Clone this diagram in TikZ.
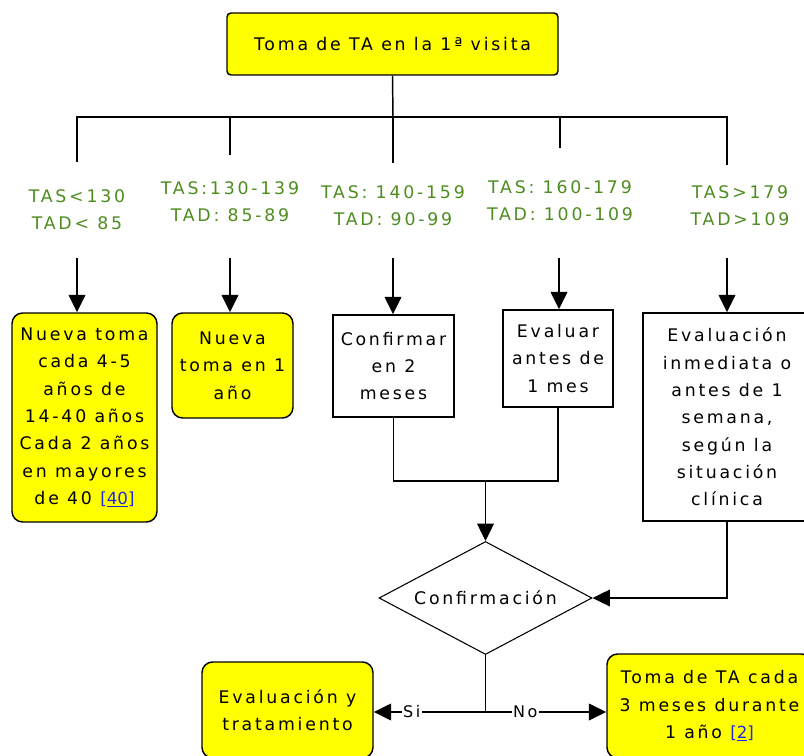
\documentclass[tikz,border=0pt]{standalone}
\usepackage{fontspec}
\setmainfont{DejaVu Sans}[LetterSpace=16]
\usetikzlibrary{arrows.meta,shapes.geometric}
\definecolor{amarillo}{RGB}{255,255,0}
\definecolor{verde}{RGB}{78,140,32}
\definecolor{enlace}{RGB}{30,40,220}
\tikzset{
  caja/.style={draw,line width=1.1pt,align=center,inner sep=0pt},
  cajaam/.style={caja,fill=amarillo,rounded corners=8pt},
  etiq/.style={text=verde,align=center},
  linea/.style={line width=1.1pt},
  flecha/.style={line width=1.1pt,-{Triangle[length=13pt,width=12.5pt]}}
}
\newcommand{\cita}[1]{{\fontsize{12.5}{12.5}\selectfont\addfontfeature{LetterSpace=0}\color{enlace}[\underline{#1}]}}
\begin{document}
\begin{tikzpicture}[x=0.75pt,y=-0.75pt,font=\fontsize{13}{20.5}\selectfont]
         \useasboundingbox (0,0) rectangle (804,756);
         \node[caja,fill=amarillo,rounded corners=3pt,minimum width=248.25pt,minimum height=46.5pt] (top) at (392.5,44) {Toma de TA en la 1ª visita};
         \coordinate (bar) at (393,117);
         \coordinate (d1) at (77,162);
         \coordinate (d2) at (230,155);
         \coordinate (d3) at (393,163);
         \coordinate (d4) at (560,148);
         \coordinate (d5) at (727,165);
         \draw[linea] (top.south) -- (bar);
         \draw[linea] (d1) |- (bar) -| (d5);
         \draw[linea] (d2) -- (d2 |- bar);
         \draw[linea] (d3) -- (bar);
         \draw[linea] (d4) -- (d4 |- bar);
         \node[etiq] (l1) at (77,209.5) {TAS<130\\TAD< 85};
         \node[etiq] (l2) at (230,201.5) {TAS:130-139\\TAD: 85-89};
         \node[etiq] (l3) at (393,206) {TAS: 140-159\\TAD: 90-99};
         \node[etiq] (l4) at (560,201) {TAS: 160-179\\TAD: 100-109};
         \node[etiq] (l5) at (740,206) {TAS>179\\TAD>109};
         \node[cajaam,minimum width=108.75pt,minimum height=156.75pt] (b1) at (84.5,417.5) {Nueva toma\\cada 4-5\\años de\\14-40 años\\Cada 2 años\\en mayores\\de 40 \cita{40}};
         \node[cajaam,minimum width=90.75pt,minimum height=78.75pt] (b2) at (232.5,365.5) {Nueva\\toma en 1\\año};
         \node[caja,minimum width=90.75pt,minimum height=76.5pt] (b3) at (393.5,366) {Confirmar\\en 2\\meses};
         \node[caja,minimum width=82.5pt,minimum height=72.75pt] (b4) at (558,358.5) {Evaluar\\antes de\\1 mes};
         \node[caja,minimum width=126pt,minimum height=156pt] (b5) at (727,417) {Evaluación\\inmediata o\\antes de 1\\semana,\\según la\\situación\\clínica};
         \coordinate (a1) at (77,258);
         \coordinate (a2) at (230,258);
         \coordinate (a3) at (393,258);
         \coordinate (a4) at (559,258);
         \coordinate (a5) at (727,258);
         \draw[flecha] (a1) -- (a1 |- b1.north);
         \draw[flecha] (a2) -- (a2 |- b2.north);
         \draw[flecha] (a3) -- (a3 |- b3.north);
         \draw[flecha] (a4) -- (a4 |- b4.north);
         \draw[flecha] (a5) -- (a5 |- b5.north);
         \node[diamond,draw,line width=0.8pt,inner sep=0pt,aspect=2,minimum width=159.75pt,minimum height=84.75pt] (conf) at (485.5,598) {Confirmación};
         \coordinate (j) at (485.5,481);
         \draw[linea] (b3.south) |- (j) -| (b4.south);
         \draw[flecha] (j) -- (conf.north);
         \draw[flecha] (b5.south) |- (conf.east);
         \node[cajaam,minimum width=128.25pt,minimum height=72pt] (b6) at (287.5,710) {Evaluación y\\tratamiento};
         \node[cajaam,minimum width=153.75pt,minimum height=78pt] (b7) at (709.5,706) {Toma de TA cada\\3 meses durante\\1 año \cita{2}};
         \coordinate (r) at (485.5,712);
         \draw[linea] (conf.south) -- (r);
         \draw[flecha] (r) -- node[pos=0.66,fill=white,inner sep=1pt,font=\fontsize{12}{12}\selectfont] (si) {Si} (b6.east |- r);
         \draw[flecha] (r) -- node[pos=0.33,fill=white,inner sep=1pt,font=\fontsize{12}{12}\selectfont] (no) {No} (b7.west |- r);
\end{tikzpicture}
\end{document}
